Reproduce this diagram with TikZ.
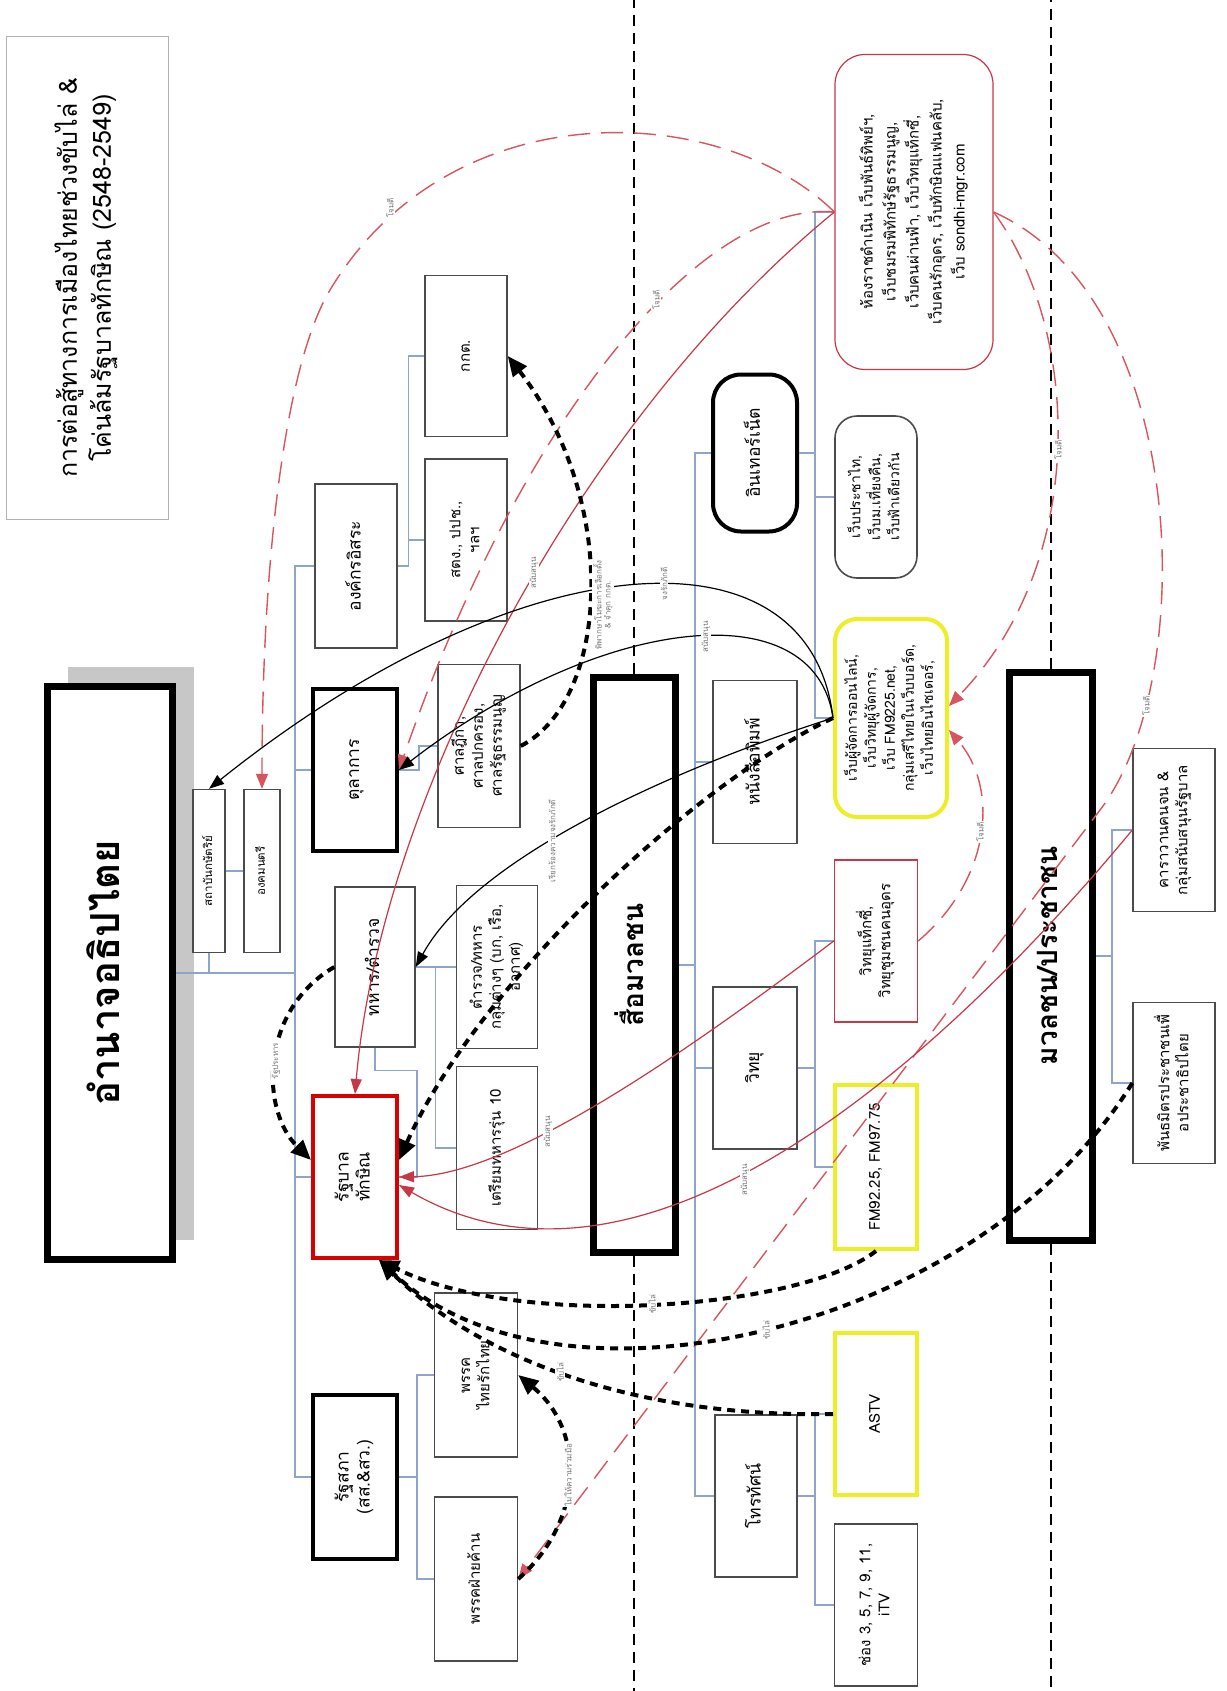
\documentclass[tikz,border=0pt]{standalone}
\usepackage{fontspec}
\usepackage{graphicx}
\setmainfont[Script=Thai]{Loma}
\usetikzlibrary{arrows.meta}

\definecolor{treeblue}{RGB}{140,165,200}
\definecolor{atkred}{RGB}{215,85,95}
\definecolor{supred}{RGB}{200,55,70}
\definecolor{hlyellow}{RGB}{238,238,40}
\definecolor{boxgray}{RGB}{75,75,75}

\newcommand{\vt}[1]{\rotatebox{90}{\begin{tabular}{@{}c@{}}#1\end{tabular}}}

\tikzset{
  wh/.style 2 args={minimum width=#1pt, minimum height=#2pt},
  box/.style={draw=boxgray, line width=1.4pt, fill=white, inner sep=0pt, font=\fontsize{15}{19}\selectfont},
  midbox/.style={box, font=\fontsize{17.5}{21}\selectfont},
  thickbox/.style={midbox, draw=black, line width=4pt},
  heavybox/.style={box, draw=black, line width=7pt, font=\fontsize{28}{32}\selectfont\bfseries},
  webbox/.style={box, rounded corners=22pt, font=\fontsize{14}{19}\selectfont},
  tree/.style={draw=treeblue, line width=1.2pt},
  sep/.style={draw=black, line width=1.8pt, dash pattern=on 11pt off 7pt},
  attack/.style={draw=atkred, line width=1.4pt, dash pattern=on 22pt off 11pt, -{Triangle[length=15pt,width=12pt]}},
  backs/.style={draw=supred, line width=1.2pt, -{Triangle[length=15pt,width=11pt]}},
  rel/.style={draw=black, line width=1.2pt, -{Triangle[length=15pt,width=11pt]}},
  push/.style={draw=black, line width=4pt, dash pattern=on 8pt off 6pt, -{Triangle[length=20pt,width=17pt]}},
  lbl/.style={rotate=90, fill=white, inner sep=1pt, text=black!55, font=\fontsize{8}{9}\selectfont},
}

\begin{document}
\begin{tikzpicture}[x=1pt, y=-1pt]
\fill[white] (0,0) rectangle (1226,1691);
\useasboundingbox (0,0) rectangle (1226,1691);
\coordinate (top) at (0,0);
\coordinate (bottom) at (0,1691);

% title
\node[box, draw=black!30, line width=1pt, wh={162}{483}, font=\fontsize{25}{34}\selectfont] (title) at (87,278)
  {\vt{การต่อสู้ทางการเมืองไทยช่วงขับไล่ \&\\โค่นล้มรัฐบาลทักษิณ (2548-2549)}};

% sovereign power
\fill[black!22] (68,667) rectangle (194,1240);
\node[heavybox, wh={125}{573}, font=\fontsize{40}{44}\selectfont\bfseries] (root) at (110,973) {\vt{อำนาจอธิปไตย}};
\node[box, wh={32}{163}, font=\fontsize{11.5}{13}\selectfont] (king) at (209,871) {\vt{สถาบันกษัตริย์}};
\node[box, wh={36}{163}, font=\fontsize{11.5}{13}\selectfont] (privy) at (262,871) {\vt{องคมนตรี}};
\node[midbox, wh={82}{164}] (indep) at (356,566) {\vt{องค์กรอิสระ}};
\node[box, wh={82}{161}] (kkt) at (466,356) {\vt{กกต.}};
\node[box, wh={82}{162}] (stg) at (466,540) {\vt{สตง., ปปช.,\\ฯลฯ}};
\node[thickbox, wh={84}{162}] (judic) at (355,770) {\vt{ตุลาการ}};
\node[box, wh={82}{163}] (court) at (479,746) {\vt{ศาลฎีกา,\\ศาลปกครอง,\\ศาลรัฐธรรมนูญ}};
\node[midbox, wh={80}{160}] (army) at (375,967) {\vt{ทหาร/ตำรวจ}};
\node[box, wh={81}{163}] (armygrp) at (497,967) {\vt{ตำรวจ/ทหาร\\กลุ่มต่างๆ (บก, เรือ,\\อากาศ)}};
\node[box, wh={81}{163}] (cadet) at (497,1148) {\vt{เตรียมทหารรุ่น 10}};
\node[thickbox, draw=red!85!black, wh={84}{162}] (gov) at (355,1177) {\vt{รัฐบาล\\ทักษิณ}};
\node[thickbox, wh={84}{164}] (parl) at (355,1477) {\vt{รัฐสภา\\(สส.\&สว.)}};
\node[box, wh={83}{164}] (trt) at (476,1375) {\vt{พรรค\\ไทยรักไทย}};
\node[box, wh={83}{164}] (oppo) at (476,1579) {\vt{พรรคฝ่ายค้าน}};

% mass media
\node[heavybox, wh={82}{575}] (media) at (634,965) {\vt{สื่อมวลชน}};
\node[thickbox, rounded corners=28pt, wh={84}{157}] (net) at (755,453) {\vt{อินเทอร์เน็ต}};
\node[midbox, wh={84}{163}] (news) at (755,762) {\vt{หนังสือพิมพ์}};
\node[midbox, wh={84}{162}] (radio) at (755,1068) {\vt{วิทยุ}};
\node[midbox, wh={82}{162}] (tv) at (756,1496) {\vt{โทรทัศน์}};
\node[webbox, draw=supred, line width=1.2pt, rounded corners=30pt, wh={158}{315}, font=\fontsize{15}{23}\selectfont] (webred) at (914,212)
  {\vt{ห้องราชดำเนิน เว็บพันธ์ทิพย์ฯ,\\เว็บชมรมพิทักษ์รัฐธรรมนูญ,\\เว็บคนผ่านฟ้า, เว็บวิทยุแท็กซี่,\\เว็บคนรักอุดร, เว็บทักษิณแฟนคลับ,\\เว็บ sondhi-mgr.com}};
\node[webbox, line width=1.6pt, wh={82}{162}] (webgray) at (876,497) {\vt{เว็บประชาไท,\\เว็บม.เที่ยงคืน,\\เว็บฟ้าเดียวกัน}};
\node[webbox, draw=hlyellow, line width=4pt, wh={112}{198}] (webyel) at (891,718)
  {\vt{เว็บผู้จัดการออนไลน์,\\เว็บวิทยุผู้จัดการ,\\เว็บ FM9225.net,\\กลุ่มเสรีไทยในเว็บบอร์ด,\\เว็บไทยอินไซเดอร์,}};
\node[box, draw=supred, line width=1.5pt, wh={83}{162}] (taxi) at (876,941) {\vt{วิทยุแท็กซี่,\\วิทยุชุมชนคนอุดร}};
\node[box, draw=hlyellow, line width=4pt, wh={82}{164}] (fm) at (876,1167) {\vt{FM92.25, FM97.75}};
\node[box, draw=hlyellow, line width=4pt, wh={82}{162}] (astv) at (876,1414) {\vt{ASTV}};
\node[box, wh={83}{162}] (ch) at (876,1605) {\vt{ช่อง 3, 5, 7, 9, 11,\\iTV}};

% people
\node[heavybox, wh={83}{568}] (mass) at (1051,956) {\vt{มวลชน/ประชาชน}};
\node[box, wh={82}{163}] (caravan) at (1174,830) {\vt{คาราวานคนจน \&\\กลุ่มสนับสนุนรัฐบาล}};
\node[box, wh={82}{161}] (pad) at (1174,1083) {\vt{พันธมิตรประชาชนเพื่\\อประชาธิปไตย}};

% tree lines
\coordinate (ltrunk) at (295,0);
\coordinate (mtrunk) at (695,0);
\coordinate (wtrunk) at (815,0);
\coordinate (ptrunk) at (1112,0);
\draw[tree] (indep.west) -| (ltrunk |- parl.west) -- (parl.west);
\draw[tree] (root.east) -- (root.east -| ltrunk);
\draw[tree] (king.south) -- (king.south |- root.east);
\draw[tree] (king.east) -- (privy.west);
\draw[tree] (judic.west) -- (judic.west -| ltrunk);
\draw[tree] (gov.west) -- (gov.west -| ltrunk);
\draw[tree] (indep.east) -- ++(11,0) |- (kkt.west);
\draw[tree] (indep.east) ++(11,0) |- (stg.west);
\draw[tree] (judic.east) -- ++(20,0) |- (court.west);
\draw[tree] (gov.east) -- ++(18,0) |- ([yshift=-23pt]army.south) -- (army.south);
\draw[tree] (army.east) -- ++(20,0) coordinate (ab) |- (cadet.west);
\draw[tree] (ab) -- (armygrp.west);
\draw[tree] (trt.west) -| ([xshift=18pt]parl.east) |- (oppo.west);
\draw[tree] (parl.east) -- ++(18,0);
\draw[tree] (net.west) -| (mtrunk |- tv.west) -- (tv.west);
\draw[tree] (media.east) -- (media.east -| mtrunk);
\draw[tree] (news.west) -- (news.west -| mtrunk);
\draw[tree] (radio.west) -- (radio.west -| mtrunk);
\draw[tree] (webred.west) -| (wtrunk |- webyel.west) -- (webyel.west);
\draw[tree] (net.east) -- (net.east -| wtrunk);
\draw[tree] (webgray.west) -- (webgray.west -| wtrunk);
\draw[tree] (taxi.west) -| (wtrunk |- fm.west) -- (fm.west);
\draw[tree] (radio.east) -- (radio.east -| wtrunk);
\draw[tree] (astv.west) -| (wtrunk |- ch.west) -- (ch.west);
\draw[tree] (tv.east) -- (tv.east -| wtrunk);
\draw[tree] (caravan.west) -| (ptrunk |- pad.west) -- (pad.west);
\draw[tree] (mass.east) -- (mass.east -| ptrunk);

% separators
\draw[sep] (media.north) -- (media.north |- top);
\draw[sep] (media.south) -- (media.south |- bottom);
\draw[sep] (mass.north) -- (mass.north |- top);
\draw[sep] (mass.south) -- (mass.south |- bottom);

% attacks
\draw[attack] (webred.west) .. controls (720,100) and (450,90) .. (330,290) .. controls (285,365) and (262,560) .. (privy.north);
\draw[attack] (webred.west) .. controls (700,200) and (520,420) .. (judic.east);
\draw[attack] (webred.east) .. controls (1190,300) and (1200,680) .. (1100,810) -- (oppo.east);
\draw[attack] (webred.east) .. controls (1080,330) and (1090,560) .. ([yshift=12pt]webyel.east);
\draw[attack] (taxi.east) .. controls (990,880) and (1000,790) .. ([yshift=-12pt]webyel.east);

% support
\draw[backs] (webred.west) .. controls (580,420) and (380,800) .. (gov.north);
\draw[backs] (taxi.west) .. controls (650,1080) and (500,1175) .. (gov.east);
\draw[backs] (caravan.west) .. controls (950,1050) and (650,1330) .. ([yshift=-8pt]gov.east);

% web board
\draw[rel] (webyel.west) .. controls (810,520) and (520,540) .. (king.north);
\draw[rel] (webyel.west) .. controls (815,590) and (600,615) .. (judic.east);
\draw[rel] (webyel.west) .. controls (700,760) and (480,850) .. (army.east);

% pressure
\draw[push] (court.east) .. controls (610,700) and (620,500) .. (kkt.east);
\draw[push] (webyel.west) .. controls (700,780) and (480,980) .. ([yshift=17pt]gov.east);
\draw[push] (army.west) .. controls (260,1010) and (260,1110) .. ([yshift=17pt]gov.west);
\draw[push] (astv.west) .. controls (620,1418) and (470,1350) .. ([xshift=-20pt]gov.south east);
\draw[push] (fm.south) .. controls (800,1310) and (520,1330) .. ([xshift=-20pt]gov.south east);
\draw[push] (pad.west) .. controls (980,1330) and (560,1430) .. ([xshift=-20pt]gov.south east);
\draw[push] (oppo.east) .. controls (585,1520) and (585,1430) .. (trt.east);

% labels
\node[lbl] at (390,208) {โจมตี};
\node[lbl] at (656,300) {โจมตี};
\node[lbl] at (1146,706) {โจมตี};
\node[lbl] at (1058,450) {โจมตี};
\node[lbl] at (980,832) {โจมตี};
\node[lbl] at (534,573) {สนับสนุน};
\node[lbl] at (548,1132) {สนับสนุน};
\node[lbl] at (745,1180) {สนับสนุน};
\node[lbl] at (664,584) {จงรักภักดี};
\node[lbl] at (706,637) {สนับสนุน};
\node[lbl] at (552,841) {เรียกร้องความจงรักภักดี};
\node[lbl, align=center] at (603,605) {พิพากษาโมฆะการเลือกตั้ง\\\& จำคุก กกต.};
\node[lbl] at (276,1061) {รัฐประหาร};
\node[lbl] at (560,1372) {ขับไล่};
\node[lbl] at (652,1304) {ขับไล่};
\node[lbl] at (766,1330) {ขับไล่};
\node[lbl] at (568,1475) {ไม่ให้ความร่วมมือ};
\end{tikzpicture}
\end{document}
